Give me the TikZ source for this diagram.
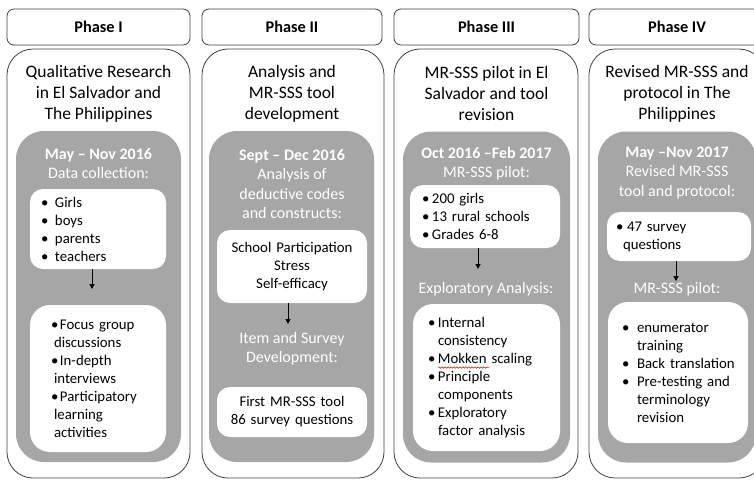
\documentclass[tikz,border=0pt]{standalone}
\usepackage{fontspec}
\setmainfont{Carlito}
\usetikzlibrary{arrows.meta,decorations.pathmorphing}

\definecolor{boxgray}{HTML}{A6A6A6}
\definecolor{edgegray}{HTML}{404040}

\newcommand{\headfont}{\fontsize{16.3}{19}\selectfont\bfseries}
\newcommand{\titlefont}{\fontsize{17.5}{21}\selectfont}
\newcommand{\grayfont}{\fontsize{16}{19.5}\selectfont}
\newcommand{\listfont}{\fontsize{14.8}{18}\selectfont}
\newcommand{\bul}[2][10pt]{\mbox{\makebox[#1][l]{\textbullet}#2}}
\newcommand{\cont}[2][10pt]{\mbox{\hspace*{#1}#2}}

\tikzset{
  phasehead/.style={draw=edgegray, line width=0.8pt, rounded corners=7pt, minimum height=36, inner sep=0pt, font=\headfont},
  phasebody/.style={draw=edgegray, line width=0.8pt, rounded corners=26pt, minimum height=429, inner sep=0pt},
  graybox/.style={fill=boxgray, rounded corners=28pt, minimum height=331, inner sep=0pt},
  whitebox/.style={fill=white, rounded corners=13pt, inner ysep=0pt, align=left, font=\listfont},
  phasetitle/.style={align=center, font=\titlefont, inner sep=0pt},
  graytext/.style={align=center, font=\grayfont, text=white, inner sep=0pt},
  arr/.style={-{Triangle[length=5pt,width=5pt]}, line width=1pt}
}

\begin{document}
\begin{tikzpicture}[x=1pt, y=-1pt]

\useasboundingbox (0,0) rectangle (754,480);
\clip (0,0) rectangle (754,480);

\node[phasehead, minimum width=183] (p1head) at (98.5,27) {Phase I};
\node[phasehead, minimum width=180] (p2head) at (292,27) {Phase II};
\node[phasehead, minimum width=185] (p3head) at (486.5,27) {Phase III};
\node[phasehead, minimum width=176] (p4head) at (677,27) {Phase IV};

\node[phasebody, minimum width=183] (p1body) at (98.5,263.5) {};
\node[phasebody, minimum width=182] (p2body) at (293,263.5) {};
\node[phasebody, minimum width=184] (p3body) at (486,263.5) {};
\node[phasebody, minimum width=176] (p4body) at (677,263.5) {};

\node[phasetitle] (p1title) at (98.5,93.5) {Qualitative Research\\in El Salvador and\\The Philippines};
\node[phasetitle] (p2title) at (292,93.5) {Analysis and\\MR-SSS tool\\development};
\node[phasetitle] (p3title) at (486.5,93.5) {MR-SSS pilot in El\\Salvador and tool\\revision};
\node[phasetitle] (p4title) at (677,93.5) {Revised MR-SSS and\\protocol in The\\Philippines};

\node[graybox, minimum width=165] (p1gray) at (98.5,296.5) {};
\node[graybox, minimum width=165] (p2gray) at (291.5,296.5) {};
\node[graybox, minimum width=167] (p3gray) at (486.5,297) {};
\node[graybox, minimum width=158] (p4gray) at (677,297) {};

\node[graytext] (p1date) at (98.5,163.5) {\textbf{May -- Nov 2016}\\Data collection:};
\node[graytext] (p2date) at (292,184) {\textbf{Sept -- Dec 2016}\\Analysis of\\deductive codes\\and constructs:};
\node[graytext] (p3date) at (486.5,163.5) {\textbf{Oct 2016 --Feb 2017}\\MR-SSS pilot:};
\node[graytext] (p4date) at (677,173) {\textbf{May --Nov 2017}\\Revised MR-SSS\\tool and protocol:};

\node[graytext] (p2step) at (292,348.5) {Item and Survey\\Development:};
\node[graytext] (p3step) at (486,289) {Exploratory Analysis:};
\node[graytext] (p4step) at (677,289) {MR-SSS pilot:};

\node[whitebox, inner xsep=11, text width=114, minimum height=80] (p1lista) at (98,229)
  {\bul[14pt]{Girls}\\\bul[14pt]{boys}\\\bul[14pt]{parents}\\\bul[14pt]{teachers}};
\node[whitebox, rounded corners=20pt, inner xsep=21, text width=94, minimum height=147] (p1listb) at (98,378.5)
  {\bul[9pt]{Focus group}\\\cont[3pt]{discussions}\\\bul[9pt]{In-depth}\\\cont[3pt]{interviews}\\\bul[9pt]{Participatory}\\\cont[3pt]{learning}\\\cont[3pt]{activities}};

\node[whitebox, align=center, inner xsep=4, text width=142, minimum height=73] (p2lista) at (292,266.5)
  {School Participation\\Stress\\Self-efficacy};
\node[whitebox, align=center, inner xsep=4, text width=142, minimum height=50] (p2listb) at (292,412)
  {First MR-SSS tool\\86 survey questions};

\node[whitebox, inner xsep=12, text width=126, minimum height=63] (p3lista) at (485,216.5)
  {\bul{200 girls}\\\bul{13 rural schools}\\\bul{Grades 6-8}};
\node[whitebox, rounded corners=20pt, inner xsep=15, text width=117, minimum height=147] (p3listb) at (486.5,377.5)
  {\bul{Internal}\\\cont{consistency}\\\bul{Mokken scaling}\\\bul{Principle}\\\cont{components}\\\bul{Exploratory}\\\cont{factor analysis}};

\node[whitebox, inner xsep=9, text width=126, minimum height=49] (p4lista) at (679,236.5)
  {\bul[11pt]{47 survey}\\\cont[7pt]{questions}};
\node[whitebox, rounded corners=20pt, inner xsep=14, text width=112, minimum height=141] (p4listb) at (678,372.5)
  {\bul[15pt]{enumerator}\\\cont[15pt]{training}\\\bul[15pt]{Back translation}\\\bul[15pt]{Pre-testing and}\\\cont[15pt]{terminology}\\\cont[15pt]{revision}};

\coordinate (p1tip) at (92,289);
\coordinate (p2tip) at (288,324);
\coordinate (p3tip) at (478,269);
\coordinate (p4tip) at (676,281);

\draw[arr] (p1lista.south -| p1tip) -- (p1tip);
\draw[arr] (p2lista.south -| p2tip) -- (p2tip);
\draw[arr] (p3lista.south -| p3tip) -- (p3tip);
\draw[arr] (p4lista.south -| p4tip) -- (p4tip);

\draw[red, line width=0.5pt, decorate, decoration={snake, amplitude=0.8pt, segment length=3pt}] (438,367.5) -- (489,367.5);

\end{tikzpicture}
\end{document}
